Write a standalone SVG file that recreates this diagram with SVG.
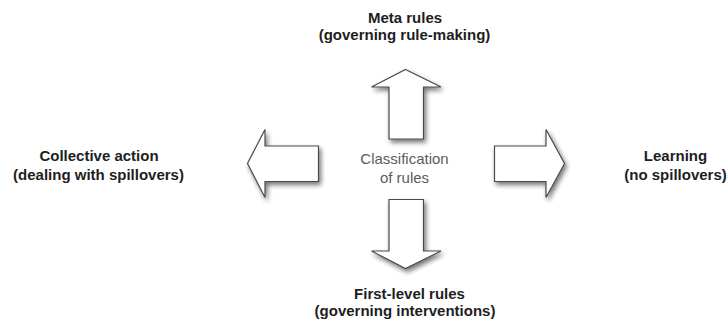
<svg xmlns="http://www.w3.org/2000/svg" width="728" height="321" viewBox="0 0 728 321">
<style>
.lbl{font-family:"Liberation Sans",Arial,Helvetica,sans-serif;font-weight:bold;font-size:15px;fill:#1e1e1e;text-anchor:middle}
.ctr{font-family:"Liberation Sans",Arial,Helvetica,sans-serif;font-size:15px;fill:#5c5c5c;text-anchor:middle}
.arr{fill:#ffffff;stroke:#4a4a4a;stroke-width:1.2;stroke-linejoin:miter;filter:url(#sh)}
</style>
<defs>
<filter id="sh" x="-30%" y="-30%" width="160%" height="160%">
<feGaussianBlur in="SourceAlpha" stdDeviation="2.5"/>
<feOffset dx="1.5" dy="3" result="b"/>
<feComponentTransfer><feFuncA type="linear" slope="0.55"/></feComponentTransfer>
<feMerge><feMergeNode/><feMergeNode in="SourceGraphic"/></feMerge>
</filter>
</defs>
<rect width="728" height="321" fill="#ffffff"/>
<g id="connectors">
<path class="arr" d="M405.5,69.5 L441,87 L423.5,87 L423.5,139 L389,139 L389,87 L371.5,87 Z"/>
<path class="arr" d="M389,199.5 L423.5,199.5 L423.5,251 L441,251 L405.5,268.5 L371.5,251 L389,251 Z"/>
<path class="arr" d="M247.5,163.5 L265,129.5 L265,146 L318.5,146 L318.5,181.5 L265,181.5 L265,197.5 Z"/>
<path class="arr" d="M494.5,146 L546,146 L546,129.5 L564.5,163.5 L546,197.5 L546,181.5 L494.5,181.5 Z"/>
</g>
<g id="center">
<text class="ctr" x="404.5" y="163.5">Classification</text>
<text class="ctr" x="404.5" y="182.5">of rules</text>
</g>
<g id="meta">
<text class="lbl" x="405" y="22.5">Meta rules</text>
<text class="lbl" x="404.5" y="39.5">(governing rule-making)</text>
</g>
<g id="collective">
<text class="lbl" x="99" y="160.5">Collective action</text>
<text class="lbl" x="98.5" y="180">(dealing with spillovers)</text>
</g>
<g id="learning">
<text class="lbl" x="675.5" y="160.5">Learning</text>
<text class="lbl" x="675.5" y="180">(no spillovers)</text>
</g>
<g id="firstlevel">
<text class="lbl" x="409.5" y="298.5">First-level rules</text>
<text class="lbl" x="405" y="316">(governing interventions)</text>
</g>
</svg>
